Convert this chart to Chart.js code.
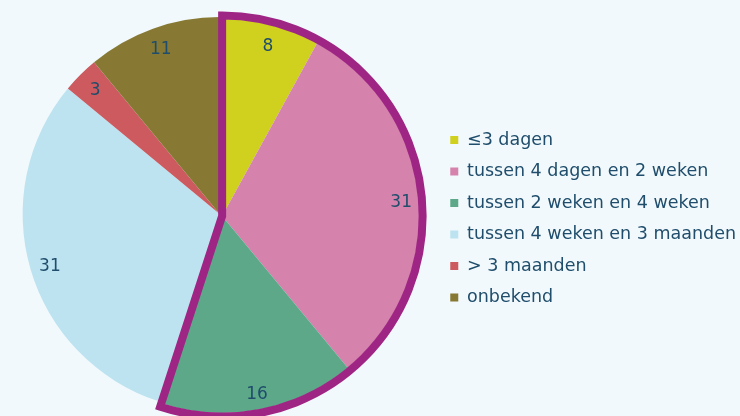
<!DOCTYPE html>
<html>
<head>
<meta charset="utf-8">
<script src="https://cdn.jsdelivr.net/npm/chart.js@4.4.1/dist/chart.umd.min.js"></script>
<style>
  html, body { margin: 0; padding: 0; background: #f1f9fc; }
  #wrap { width: 740px; height: 416px; position: relative; }
</style>
</head>
<body>
<div id="wrap"><canvas id="c" width="740" height="416"></canvas></div>
<script>
const categories = ['≤3 dagen', 'tussen 4 dagen en 2 weken', 'tussen 2 weken en 4 weken', 'tussen 4 weken en 3 maanden', '> 3 maanden', 'onbekend'];
const values = [8, 31, 16, 31, 3, 11];
const sliceColors = ['#d0d01e', '#d583ad', '#5ea88a', '#bde3f0', '#cc5a5e', '#877933'];
const highlighted = [0, 1, 2];

const textColor = '#1f4d6b';
const outlineColor = '#9e2584';
const groupShift = { dx: 2.5, dy: 2 };

const shiftPlugin = {
  id: 'shiftGroup',
  afterDatasetUpdate(chart, args) {
    const meta = args.meta;
    highlighted.forEach(i => {
      const el = meta.data[i];
      if (el) { el.x += groupShift.dx; el.y += groupShift.dy; }
    });
  }
};

const outlinePlugin = {
  id: 'groupOutline',
  afterDatasetsDraw(chart) {
    const meta = chart.getDatasetMeta(0);
    const first = meta.data[highlighted[0]];
    const last = meta.data[highlighted[highlighted.length - 1]];
    const ctx = chart.ctx;
    ctx.save();
    ctx.beginPath();
    ctx.moveTo(first.x, first.y);
    ctx.arc(first.x, first.y, first.outerRadius + 3.5, first.startAngle, last.endAngle);
    ctx.closePath();
    ctx.lineWidth = 8;
    ctx.lineJoin = 'miter';
    ctx.strokeStyle = outlineColor;
    ctx.stroke();
    ctx.restore();

    // value labels
    ctx.save();
    ctx.font = '17px "DejaVu Sans"';
    ctx.fillStyle = textColor;
    ctx.textAlign = 'center';
    ctx.textBaseline = 'middle';
    meta.data.forEach((el, i) => {
      const mid = (el.startAngle + el.endAngle) / 2;
      const r = el.outerRadius * 0.905;
      ctx.fillText(String(values[i]), el.x + Math.cos(mid) * r + 1.5, el.y + Math.sin(mid) * r + 3);
    });
    ctx.restore();
  }
};

new Chart(document.getElementById('c'), {
  type: 'pie',
  data: {
    labels: categories,
    datasets: [{
      data: values,
      backgroundColor: sliceColors,
      borderWidth: 0,
      radius: 197
    }]
  },
  options: {
    responsive: false,
    animation: false,
    events: [],
    layout: { padding: { left: 3, right: -6, top: 17, bottom: 5 } },
    plugins: {
      tooltip: { enabled: false },
      legend: {
        position: 'right',
        align: 'center',
        title: { display: true, text: '', font: { size: 9.5, lineHeight: 1 }, padding: 0 },
        labels: {
          boxWidth: 8,
          boxHeight: 8,
          padding: 14,
          color: textColor,
          font: { family: '"DejaVu Sans"', size: 17.5 }
        }
      }
    }
  },
  plugins: [shiftPlugin, outlinePlugin]
});
</script>
</body>
</html>
